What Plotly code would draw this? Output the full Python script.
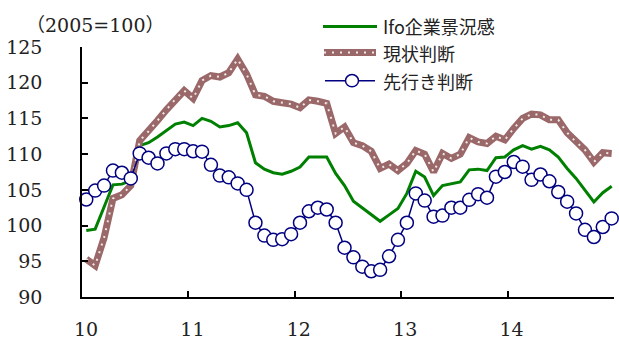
import numpy as np
import plotly.graph_objects as go

# monthly data, Jan 2010 - Dec 2014 (2005=100)
months = np.arange(60)
ifo = [99.3, 99.5, 102.6, 105.7, 105.8, 106.3, 111.2, 111.6, 112.4, 113.3, 114.2, 114.5,
       114.0, 115.0, 114.6, 113.8, 114.0, 114.4, 113.0, 108.8, 107.9, 107.4, 107.2, 107.6,
       108.2, 109.6, 109.6, 109.6, 107.3, 105.6, 103.4, 102.5, 101.5, 100.6, 101.5, 102.4,
       104.5, 107.6, 106.8, 104.2, 105.6, 105.9, 106.1, 107.8, 107.9, 107.7, 109.5, 109.6,
       110.6, 111.2, 110.7, 111.1, 110.6, 109.6, 108.0, 106.6, 105.0, 103.3, 104.6, 105.5]
current = [95.3, 94.4, 98.3, 103.8, 104.3, 105.6, 111.9, 113.2, 114.7, 116.2, 117.7, 118.9,
           117.8, 120.3, 121.0, 120.8, 121.4, 123.3, 121.2, 118.3, 118.1, 117.4, 117.2, 117.0,
           116.5, 117.6, 117.4, 117.1, 112.9, 113.8, 111.6, 111.2, 110.4, 108.0, 108.6, 107.7,
           108.7, 110.5, 110.0, 107.5, 110.1, 109.4, 110.0, 112.3, 111.7, 111.5, 112.5, 112.0,
           113.6, 115.0, 115.6, 115.5, 114.8, 114.8, 113.0, 111.7, 110.6, 108.9, 110.2, 110.1]
expect = [103.65, 104.9, 105.6, 107.7, 107.4, 106.6, 110.1, 109.5, 108.7, 110.1, 110.7, 110.7,
          110.4, 110.35, 108.5, 107.0, 106.75, 105.9, 105.0, 100.4, 98.6, 98.0, 98.1, 98.8,
          100.4, 102.0, 102.5, 102.25, 100.4, 96.9, 95.55, 94.25, 93.6, 93.8, 95.7, 98.0,
          100.4, 104.5, 103.5, 101.25, 101.4, 102.5, 102.5, 103.6, 104.4, 103.9, 106.85, 107.5,
          108.9, 108.25, 106.4, 107.15, 106.2, 104.7, 103.35, 101.7, 99.4, 98.4, 99.8, 101.0]
xtick_vals = [10, 11, 12, 13, 14, 15]
xtick_text = ["10", "11", "12", "13", "14", ""]
names = ["Ifo企業景況感", "現状判断", "先行き判断"]

x = 10.04 + months * 0.0837

GREEN = "#008000"
BROWN = "#9A6868"
NAVY = "#000080"

fig = go.Figure()
fig.add_trace(go.Scatter(x=x, y=ifo, mode="lines", line=dict(color=GREEN, width=3),
                         name=names[0], showlegend=False))
fig.add_trace(go.Scatter(x=x, y=current, mode="lines", line=dict(color=BROWN, width=7),
                         name=names[1], showlegend=False))
fig.add_trace(go.Scatter(x=x, y=current, mode="lines",
                         line=dict(color="rgba(255,255,255,0.85)", width=2, dash="2px,6px"),
                         showlegend=False, hoverinfo="skip"))
fig.add_trace(go.Scatter(x=x, y=expect, mode="lines+markers", line=dict(color=NAVY, width=1.5),
                         marker=dict(symbol="circle", size=13, color="white",
                                     line=dict(color=NAVY, width=1.5)),
                         cliponaxis=False, name=names[2], showlegend=False))

L, R, T, B = 82, 5, 47, 31
W, H = 619, 345
pw, ph = W - L - R, H - T - B

def px(xp):
    return (xp - L) / pw

def py(yp):
    return (H - B - yp) / ph

shapes = []
ann = []
# legend
rows = [25, 53, 83]
shapes.append(dict(type="line", xref="paper", yref="paper", x0=px(323), x1=px(377),
                   y0=py(rows[0]), y1=py(rows[0]), line=dict(color=GREEN, width=3)))
shapes.append(dict(type="line", xref="paper", yref="paper", x0=px(324), x1=px(376),
                   y0=py(rows[1]), y1=py(rows[1]), line=dict(color=BROWN, width=7)))
shapes.append(dict(type="line", xref="paper", yref="paper", x0=px(324), x1=px(376),
                   y0=py(rows[1]), y1=py(rows[1]),
                   line=dict(color="rgba(255,255,255,0.85)", width=2, dash="2px,6px")))
shapes.append(dict(type="line", xref="paper", yref="paper", x0=px(325), x1=px(375),
                   y0=py(rows[2]), y1=py(rows[2]), line=dict(color=NAVY, width=1.5)))
shapes.append(dict(type="circle", xref="paper", yref="paper", x0=px(345.5), x1=px(358.5),
                   y0=py(rows[2] + 6.5), y1=py(rows[2] - 6.5), fillcolor="white",
                   line=dict(color=NAVY, width=1.5)))
for r, n in zip(rows, names):
    ann.append(dict(xref="paper", yref="paper", x=px(382), y=py(r), text=n, showarrow=False,
                    xanchor="left", yanchor="middle", borderpad=0,
                    font=dict(family="Noto Sans CJK JP", size=18, color="#222")))
ann.append(dict(xref="paper", yref="paper", x=px(95), y=py(23), text="（2005=100）",
                showarrow=False, xanchor="center", yanchor="middle",
                font=dict(family="DejaVu Serif, Noto Sans CJK JP", size=19, color="#222")))

fig.update_layout(
    width=W, height=H, margin=dict(l=L, r=R, t=T, b=B),
    paper_bgcolor="white", plot_bgcolor="white",
    shapes=shapes, annotations=ann, showlegend=False,
    xaxis=dict(range=[10, 15], tickvals=xtick_vals, ticktext=xtick_text,
               showgrid=False, zeroline=False, showline=True, linecolor="black", linewidth=1.5,
               ticks="inside", ticklen=6, tickwidth=1.5, tickcolor="black",
               ticklabelstandoff=14, ticklabelshift=4,
               tickfont=dict(family="DejaVu Serif", size=19, color="#222")),
    yaxis=dict(range=[90, 125], dtick=5, tick0=90,
               showgrid=False, zeroline=False, showline=True, linecolor="black", linewidth=1.5,
               ticks="inside", ticklen=6, tickwidth=1.5, tickcolor="black",
               ticklabelstandoff=34,
               tickfont=dict(family="DejaVu Serif", size=19, color="#222")),
)

fig.write_html("out.html")
